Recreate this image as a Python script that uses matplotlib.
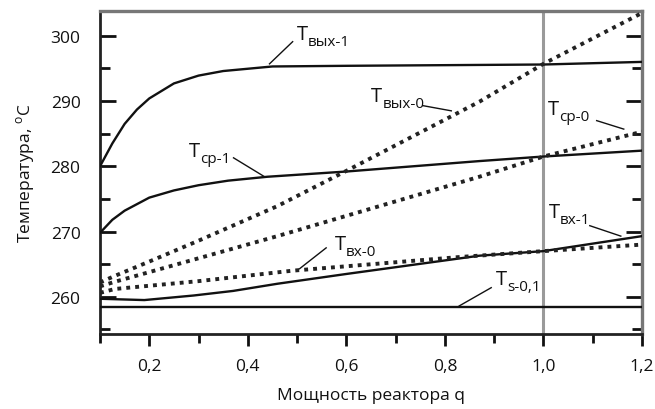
import matplotlib.pyplot as plt
from matplotlib.ticker import MultipleLocator, FixedLocator

plt.rcParams['font.family'] = ['Open Sans', 'DejaVu Sans']
plt.rcParams['mathtext.fontset'] = 'custom'
plt.rcParams['mathtext.rm'] = 'Open Sans'

# данные
q_vyh1 = [0.1, 0.125, 0.15, 0.175, 0.2, 0.25, 0.3, 0.35, 0.45, 0.6, 0.8, 1.0, 1.2]
t_vyh1 = [280.0, 283.5, 286.5, 288.7, 290.4, 292.7, 293.9, 294.6, 295.3, 295.4, 295.5, 295.6, 296.0]

q_sr1 = [0.1, 0.125, 0.15, 0.2, 0.25, 0.3, 0.36, 0.44, 0.5, 0.6, 0.87, 1.0, 1.2]
t_sr1 = [269.8, 271.8, 273.2, 275.2, 276.3, 277.1, 277.8, 278.4, 278.7, 279.2, 280.8, 281.5, 282.4]

q_vh1 = [0.1, 0.19, 0.29, 0.37, 0.46, 0.6, 0.87, 1.0, 1.2]
t_vh1 = [259.7, 259.5, 260.2, 260.9, 262.0, 263.5, 266.3, 267.0, 269.3]

q_s = [0.1, 1.2]
t_s = [258.5, 258.5]

q_vyh0 = [0.1, 0.13, 0.2, 0.3, 0.46, 0.6, 0.87, 1.0, 1.2]
t_vyh0 = [262.2, 263.2, 265.4, 268.6, 273.9, 279.3, 289.9, 295.7, 303.5]

q_sr0 = [0.1, 0.13, 0.46, 0.87, 1.0, 1.2]
t_sr0 = [261.6, 262.3, 269.3, 278.4, 281.5, 285.3]

q_vh0 = [0.1, 0.13, 0.3, 0.49, 0.83, 1.0, 1.2]
t_vh0 = [260.6, 261.2, 262.4, 264.0, 266.1, 267.0, 268.0]

x_ticks = [0.2, 0.4, 0.6, 0.8, 1.0, 1.2]
x_ticklabels = ['0,2', '0,4', '0,6', '0,8', '1,0', '1,2']
y_ticks = [260, 270, 280, 290, 300]

fig = plt.figure(figsize=(6.55, 4.1), dpi=100)
ax = fig.add_axes([100 / 655, 75 / 410, 542 / 655, 323 / 410])

ink = '#111111'
dots = (0, (1.0, 1.3))

ax.axvline(1.0, color='#9a9a9a', lw=2.2, zorder=1)

ax.plot(q_vyh1, t_vyh1, color=ink, lw=1.7, zorder=3)
ax.plot(q_sr1, t_sr1, color=ink, lw=1.7, zorder=3)
ax.plot(q_vh1, t_vh1, color=ink, lw=1.7, zorder=3)
ax.plot(q_s, t_s, color=ink, lw=1.7, zorder=3)

ax.plot(q_vyh0, t_vyh0, color='#222222', lw=2.8, ls=dots, zorder=4)
ax.plot(q_sr0, t_sr0, color='#222222', lw=2.8, ls=dots, zorder=4)
ax.plot(q_vh0, t_vh0, color='#222222', lw=2.8, ls=dots, zorder=4)


def tlabel(x, y, sub, p0, p1):
    # буква T и нижний индекс отдельным текстом
    ax.annotate('T', (x, y), xytext=(0, -5.4), textcoords='offset points',
                fontsize=14.5, ha='left', va='baseline', color=ink)
    ax.annotate(sub, (x, y), xytext=(8.2, -9.6), textcoords='offset points',
                fontsize=11, ha='left', va='baseline', color=ink)
    ax.plot([p0[0], p1[0]], [p0[1], p1[1]], color=ink, lw=1.0, zorder=5)


tlabel(0.499, 300.7, 'вых-1', (0.491, 299.1), (0.444, 295.7))
tlabel(0.650, 291.1, 'вых-0', (0.755, 289.3), (0.813, 288.5))
tlabel(1.009, 289.1, 'ср-0', (1.108, 287.0), (1.163, 285.7))
tlabel(0.281, 282.7, 'ср-1', (0.371, 281.3), (0.434, 278.4))
tlabel(0.576, 268.4, 'вх-0', (0.559, 267.5), (0.505, 264.3))
tlabel(1.010, 273.4, 'вх-1', (1.094, 270.9), (1.157, 269.3))
tlabel(0.904, 263.1, 's-0,1', (0.894, 261.4), (0.829, 258.6))

ax.set_xlim(0.1, 1.2)
ax.set_ylim(254.3, 303.8)

ax.xaxis.set_major_locator(FixedLocator(x_ticks))
ax.set_xticklabels(x_ticklabels)
ax.xaxis.set_minor_locator(MultipleLocator(0.1))
ax.yaxis.set_major_locator(FixedLocator(y_ticks))
ax.yaxis.set_minor_locator(MultipleLocator(5))

ax.tick_params(axis='x', which='both', direction='out', top=False, width=2.0,
               colors=ink, labelsize=12.5, pad=9)
ax.tick_params(axis='x', which='major', length=8.5)
ax.tick_params(axis='x', which='minor', length=6.5)
ax.tick_params(axis='y', which='both', direction='in', left=True, right=True,
               width=2.0, colors=ink, labelsize=12.5, pad=14)
ax.tick_params(axis='y', which='major', length=11.5)
ax.tick_params(axis='y', which='minor', length=7)

for side in ['left', 'bottom']:
    ax.spines[side].set_linewidth(2.0)
    ax.spines[side].set_color('#222222')
for side in ['top', 'right']:
    ax.spines[side].set_linewidth(2.4)
    ax.spines[side].set_color('#777777')

ax.set_xlabel('Мощность реактора q', fontsize=12.5, labelpad=9, color=ink)
ax.set_ylabel('Температура, $^{\\mathrm{o}}$C', fontsize=12.5, labelpad=10, color=ink)

fig.savefig('out.png', dpi=100)
